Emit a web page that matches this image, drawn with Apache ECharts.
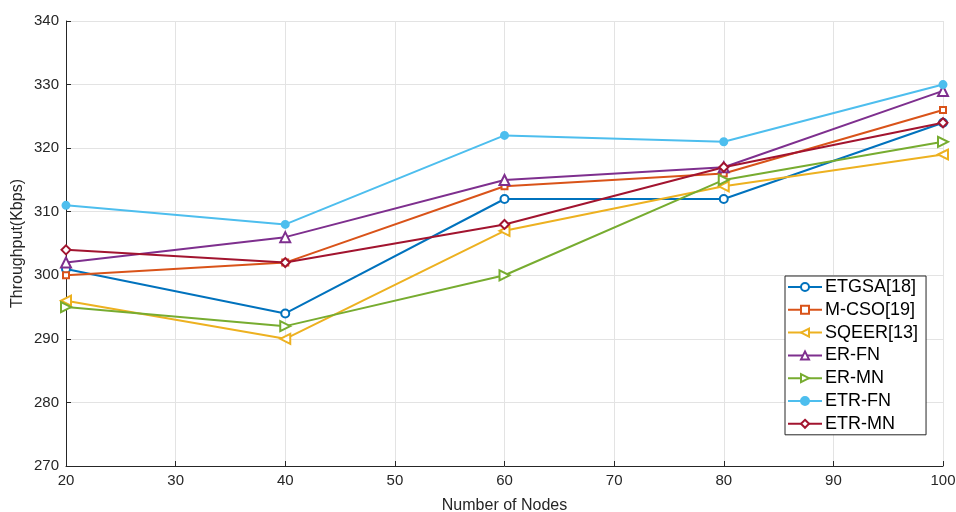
<!DOCTYPE html>
<html><head><meta charset="utf-8">
<script src="https://cdn.jsdelivr.net/npm/echarts@6/dist/echarts.min.js"></script>
<style>html,body{margin:0;padding:0;background:#fff}#c{width:956px;height:512px}</style>
</head><body><div id="c"></div>
<script>
const nodes = [20, 40, 60, 80, 100];
const seriesNames = ['ETGSA[18]', 'M-CSO[19]', 'SQEER[13]', 'ER-FN', 'ER-MN', 'ETR-FN', 'ETR-MN'];
const etgsa = [301, 294, 312, 312, 324];
const mcso = [300, 302, 314, 316, 326];
const sqeer = [296, 290, 307, 314, 319];
const erfn = [302, 306, 315, 317, 329];
const ermn = [295, 292, 300, 315, 321];
const etrfn = [311, 308, 322, 321, 330];
const etrmn = [304, 302, 308, 317, 324];
const yTicks = [270, 280, 290, 300, 310, 320, 330, 340];
const xTicks = [20, 30, 40, 50, 60, 70, 80, 90, 100];

const colors = ['#0072BD', '#D95319', '#EDB120', '#7E2F8E', '#77AC30', '#4DBEEE', '#A2142F'];
const symbols = ['emptyCircle', 'emptyRect', 'emptyTriangle', 'emptyTriangle', 'emptyTriangle', 'circle', 'emptyDiamond'];
const symbolSizes = [8, 6, 10, 10, 10, 7, 9];
const rotates = [0, 0, 90, 0, -90, 0, 0];
const values = [etgsa, mcso, sqeer, erfn, ermn, etrfn, etrmn];

const font = 'Liberation Sans, Arial, sans-serif';
const chart = echarts.init(document.getElementById('c'));
chart.setOption({
  animation: false,
  backgroundColor: '#fff',
  grid: { left: 66, right: 13, top: 21, bottom: 46, containLabel: false, outerBoundsMode: 'none' },
  xAxis: {
    type: 'value', min: 20, max: 100, interval: 10,
    name: 'Number of Nodes', nameLocation: 'middle', nameGap: 32,
    nameTextStyle: { fontFamily: font, fontSize: 16, color: '#262626' },
    axisLine: { show: true, lineStyle: { color: '#262626', width: 1 } },
    axisTick: { show: true, inside: true, length: 5, lineStyle: { color: '#262626' } },
    axisLabel: { fontFamily: font, fontSize: 15, color: '#262626', margin: 7 },
    splitLine: { show: true, lineStyle: { color: '#e3e3e3' } }
  },
  yAxis: {
    type: 'value', min: 270, max: 340, interval: 10,
    name: 'Throughput(Kbps)', nameLocation: 'middle', nameGap: 40, nameMoveOverlap: false,
    nameTextStyle: { fontFamily: font, fontSize: 16, color: '#262626' },
    axisLine: { show: true, lineStyle: { color: '#262626', width: 1 } },
    axisTick: { show: true, inside: true, length: 5, lineStyle: { color: '#262626' } },
    axisLabel: { fontFamily: font, fontSize: 15, color: '#262626', margin: 7 },
    splitLine: { show: true, lineStyle: { color: '#e3e3e3' } }
  },
  legend: {
    orient: 'vertical', left: 785, top: 276, width: 140,
    backgroundColor: '#fff', borderColor: '#262626', borderWidth: 1,
    padding: [2, 8, 2, 2], itemGap: 4.8, itemWidth: 34, itemHeight: 10,
    textStyle: { fontFamily: font, fontSize: 18, lineHeight: 18, color: '#000', padding: [0, 0, 0, -2] },
    data: seriesNames
  },
  series: seriesNames.map((n, i) => ({
    name: n, type: 'line',
    data: nodes.map((x, j) => [x, values[i][j]]),
    color: colors[i],
    symbol: symbols[i], symbolSize: symbolSizes[i], symbolRotate: rotates[i],
    showAllSymbol: true,
    lineStyle: { width: 2, color: colors[i] },
    itemStyle: { color: colors[i], borderColor: colors[i], borderWidth: 2 },
    emphasis: { disabled: true }
  }))
});
</script></body></html>
